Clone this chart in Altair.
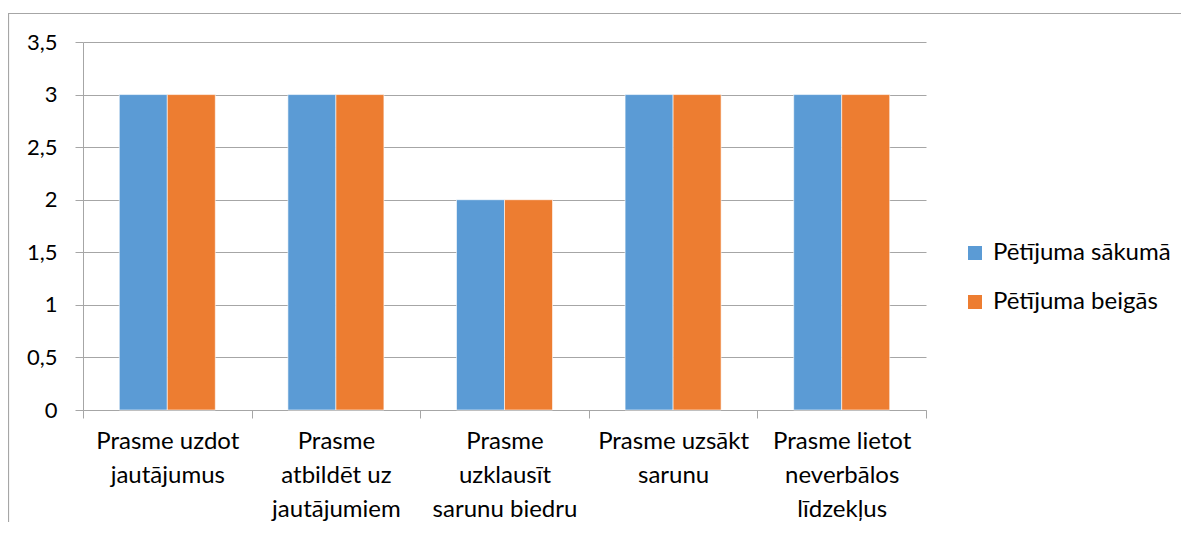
import altair as alt
import pandas as pd

categories = [
    "Prasme uzdot|jautājumus",
    "Prasme|atbildēt uz|jautājumiem",
    "Prasme|uzklausīt|sarunu biedru",
    "Prasme uzsākt|sarunu",
    "Prasme lietot|neverbālos|līdzekļus",
]
series = ["Pētījuma sākumā", "Pētījuma beigās"]
start_values = [3, 3, 2, 3, 3]
end_values = [3, 3, 2, 3, 3]
colors = ["#5B9BD5", "#ED7D31"]
y_ticks = [0, 0.5, 1, 1.5, 2, 2.5, 3, 3.5]

rows = []
for c, a, b in zip(categories, start_values, end_values):
    rows.append({"cat": c, "series": series[0], "value": a})
    rows.append({"cat": c, "series": series[1], "value": b})
df = pd.DataFrame(rows)

W, H = 843, 368
FONT = "Lato"
GRAY = "#a6a6a6"

bars = alt.Chart(df).mark_bar(stroke="white", strokeWidth=0.6).encode(
    x=alt.X(
        "cat:N",
        sort=categories,
        scale=alt.Scale(paddingInner=0, paddingOuter=0),
        axis=alt.Axis(
            title=None,
            labelExpr="split(datum.label, '|')",
            labelAngle=0,
            tickBand="extent",
            ticks=True,
            tickSize=8,
            tickColor=GRAY,
            domainColor=GRAY,
            labelFont=FONT,
            labelFontSize=24,
            labelLineHeight=34,
            labelPadding=11,
            labelLimit=300,
            labelColor="#000000",
            grid=False,
        ),
    ),
    xOffset=alt.XOffset(
        "series:N", sort=series, scale=alt.Scale(paddingOuter=0.756, paddingInner=0)
    ),
    y=alt.Y(
        "value:Q",
        scale=alt.Scale(domain=[0, 3.5]),
        axis=alt.Axis(
            values=y_ticks,
            title=None,
            labelExpr="replace(format(datum.value, '~g'), '.', ',')",
            grid=True,
            gridColor=GRAY,
            domain=True,
            domainColor=GRAY,
            tickColor=GRAY,
            tickSize=8,
            labelFont=FONT,
            labelFontSize=22,
            labelPadding=18,
            labelColor="#000000",
        ),
    ),
    color=alt.Color(
        "series:N",
        sort=series,
        scale=alt.Scale(domain=series, range=colors),
        legend=alt.Legend(
            title=None,
            orient="none",
            legendX=880,
            legendY=199,
            symbolType="square",
            symbolSize=196,
            symbolStrokeWidth=0,
            labelFont=FONT,
            labelFontSize=24,
            labelColor="#000000",
            labelOffset=6,
            labelLimit=300,
            rowPadding=25,
        ),
    ),
)

border = alt.Chart(pd.DataFrame({"a": [0]})).mark_rect(
    fillOpacity=0, stroke=GRAY, strokeWidth=1.2, clip=False
).encode(
    x=alt.value(-74.5),
    x2=alt.value(W + 400),
    y=alt.value(-28.5),
    y2=alt.value(H + 300),
)

chart = alt.layer(border, bars).properties(
    width=W,
    height=H,
    padding={"left": 75, "top": 34, "right": 255, "bottom": 112},
    autosize=alt.AutoSizeParams(type="none"),
).configure_view(stroke=None)

chart.save("out.html", embed_options={"renderer": "svg", "actions": False})
